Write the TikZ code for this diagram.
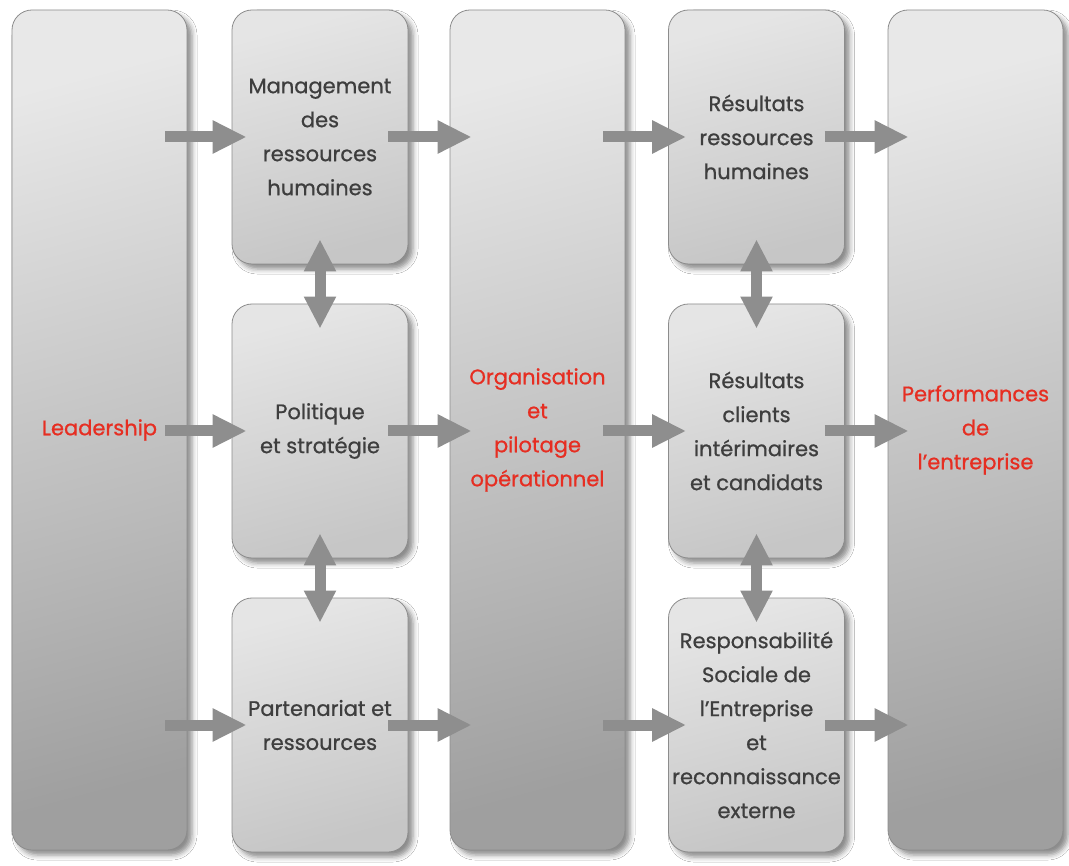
\documentclass[tikz,border=0pt]{standalone}
\usepackage{fontspec}
\setmainfont{Poppins}[FakeBold=0.8]
\usetikzlibrary{arrows.meta,shadows.blur}
\definecolor{txt}{HTML}{3E3E3E}
\definecolor{redt}{HTML}{E62E22}
\definecolor{arrowc}{HTML}{8E8E8E}
\definecolor{edge}{HTML}{8C8C8C}
\tikzset{
  basebox/.style={draw=edge, line width=0.8pt, rounded corners=20pt, inner sep=0pt,
    align=center, font=\fontsize{21}{34}\selectfont,
    blur shadow={shadow xshift=5pt, shadow yshift=-5pt, shadow blur radius=5pt, shadow opacity=45}},
  colbox/.style={basebox, minimum width=175pt, minimum height=840pt,
    top color=gray!18, bottom color=gray!75, shading angle=15, text=redt},
  smallbox/.style={basebox, minimum width=176pt, minimum height=254pt,
    top color=gray!20, bottom color=gray!45, shading angle=15, text=txt},
  harrow/.style={draw=arrowc, line width=11pt, -{Triangle[width=31pt,length=34pt]}},
  varrow/.style={draw=arrowc, line width=11pt,
    {Triangle[width=30pt,length=32pt]}-{Triangle[width=30pt,length=32pt]}}
}
\begin{document}
\begin{tikzpicture}[x=1pt,y=-1pt]
\useasboundingbox (0,0) rectangle (1069,866);
\fill[white] (0,0) rectangle (1069,866);
% columns
\node[colbox] (c1) at (99.5,430) {Leadership};
\node[colbox] (c3) at (537.5,430) {Organisation\\et\\pilotage\\opérationnel};
\node[colbox] (c5) at (975.5,430) {Performances\\de\\l’entreprise};
% left middle boxes
\node[smallbox] (m1) at (320,137) {Management\\des\\ressources\\humaines};
\node[smallbox] (m2) at (320,431) {Politique\\et stratégie};
\node[smallbox] (m3) at (320,725) {Partenariat et\\ressources};
% right middle boxes
\node[smallbox] (r1) at (756.5,137) {Résultats\\ressources\\humaines};
\node[smallbox] (r2) at (756.5,431) {Résultats\\clients\\intérimaires\\et candidats};
\node[smallbox] (r3) at (756.5,725) {Responsabilité\\Sociale de\\l’Entreprise\\et\\reconnaissance\\externe};
% horizontal arrows
\foreach \m/\r in {m1/r1,m2/r2,m3/r3}{
  \draw[harrow] ([xshift=-22pt]c1.east |- \m.west) -- ([xshift=15pt]\m.west);
  \draw[harrow] ([xshift=-20pt]\m.east) -- ([xshift=22pt]c3.west |- \m.east);
  \draw[harrow] ([xshift=-22pt]c3.east |- \r.west) -- ([xshift=18pt]\r.west);
  \draw[harrow] ([xshift=-20pt]\r.east) -- ([xshift=21pt]c5.west |- \r.east);
}
% vertical double arrows
\draw[varrow] ([yshift=25pt]m1.south) -- ([yshift=-25pt]m2.north);
\draw[varrow] ([yshift=25pt]m2.south) -- ([yshift=-25pt]m3.north);
\draw[varrow] ([yshift=25pt]r1.south) -- ([yshift=-25pt]r2.north);
\draw[varrow] ([yshift=25pt]r2.south) -- ([yshift=-25pt]r3.north);
\end{tikzpicture}
\end{document}
